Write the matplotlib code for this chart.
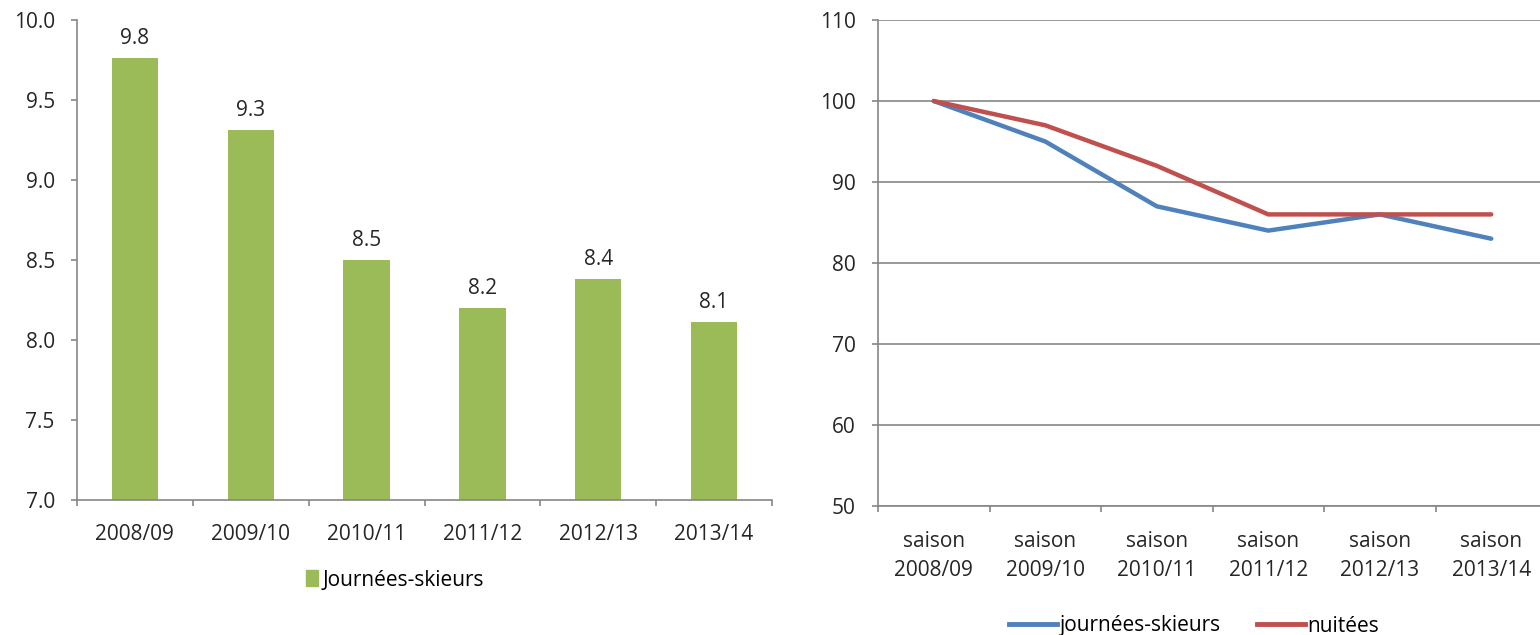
import matplotlib
matplotlib.use("Agg")
import matplotlib.pyplot as plt
from matplotlib.lines import Line2D
from matplotlib.patches import Patch

# data
seasons = ["2008/09", "2009/10", "2010/11", "2011/12", "2012/13", "2013/14"]
skier_days_m = [9.76, 9.31, 8.50, 8.20, 8.38, 8.11]
idx_skier_days = [100, 95, 87, 84, 86, 83]
idx_nights = [100, 97, 92, 86, 86, 86]

GREEN = "#9bbb59"
BLUE = "#4f81bd"
RED = "#c0504d"
AXC = "#868686"
TXT = "#262626"

plt.rcParams["font.family"] = ["Open Sans", "DejaVu Sans"]
plt.rcParams["font.size"] = 15

fig = plt.figure(figsize=(15.4, 6.35), dpi=100)

W, H = 1540, 635


def px_axes(x0, y0, x1, y1):
    return fig.add_axes([x0 / W, 1 - y1 / H, (x1 - x0) / W, (y1 - y0) / H])


def style(ax):
    for s in ("top", "right"):
        ax.spines[s].set_visible(False)
    for s in ("left", "bottom"):
        ax.spines[s].set_color(AXC)
        ax.spines[s].set_linewidth(1.2)
    n = len(seasons)
    ax.set_xlim(-0.5, n - 0.5)
    ax.set_xticks(range(n))
    ax.set_xticks([i - 0.5 for i in range(n + 1)], minor=True)
    ax.tick_params(axis="x", which="major", length=0, pad=17, colors=TXT)
    ax.tick_params(axis="x", which="minor", length=4, color=AXC, width=1.2)
    ax.tick_params(axis="y", length=4, color=AXC, width=1.2, pad=12)
    ax.tick_params(axis="y", labelcolor=TXT)


# left: bar chart
ax1 = px_axes(77, 20, 772, 500)
style(ax1)
x = range(len(seasons))
ax1.bar(x, skier_days_m, width=0.4, color=GREEN)
ax1.set_ylim(7.0, 10.0)
ax1.set_yticks([7.0, 7.5, 8.0, 8.5, 9.0, 9.5, 10.0])
ax1.set_yticklabels([f"{v:.1f}" for v in ax1.get_yticks()])
ax1.set_xticklabels(seasons)
for i, v in enumerate(skier_days_m):
    ax1.annotate(f"{v:.1f}", (i, v), xytext=(0, 14), textcoords="offset points",
                 ha="center", va="center", color=TXT)
ax1.legend(handles=[Patch(color=GREEN, label="Journées-skieurs")],
           loc="center", bbox_to_anchor=(395 / W, 1 - 580 / H),
           bbox_transform=fig.transFigure, frameon=False,
           handlelength=0.6, handleheight=0.8, handletextpad=0.2)

# right: index lines
ax2 = px_axes(878, 20, 878 + 6 * 111.5, 506)
style(ax2)
ax2.set_ylim(50, 110)
ax2.set_yticks(range(50, 111, 10))
ax2.yaxis.grid(True, color=AXC, linewidth=1.2)
ax2.set_axisbelow(True)
ax2.plot(x, idx_skier_days, color=BLUE, lw=3.2, solid_capstyle="round")
ax2.plot(x, idx_nights, color=RED, lw=3.2, solid_capstyle="round")
ax2.set_xticklabels([f"saison\n{s}" for s in seasons], linespacing=1.5)
ax2.tick_params(axis="x", which="major", pad=18)
ax2.legend(handles=[Line2D([], [], color=BLUE, lw=3.5, label="journées-skieurs"),
                    Line2D([], [], color=RED, lw=3.5, label="nuitées")],
           loc="center", ncol=2, bbox_to_anchor=(1194 / W, 1 - 626 / H),
           bbox_transform=fig.transFigure, frameon=False,
           handlelength=2.3, handletextpad=0.1, columnspacing=1.8)

fig.savefig("out.png", dpi=100)
